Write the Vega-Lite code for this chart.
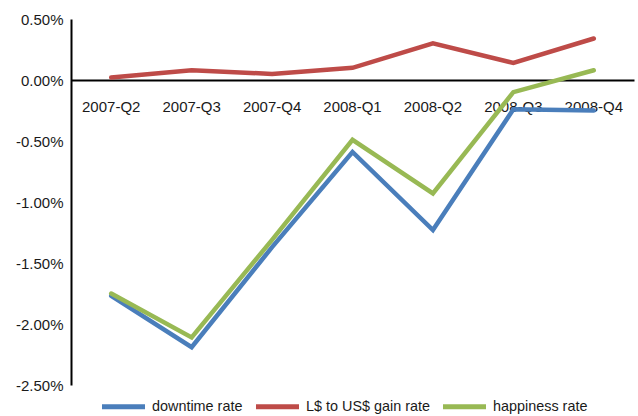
{
  "$schema": "https://vega.github.io/schema/vega-lite/v6.json",
  "autosize": {"type": "none"},
  "padding": {"left": 71, "top": 19, "right": 4, "bottom": 31},
  "width": 563,
  "height": 366,
  "background": "white",
  "config": {
    "view": {"stroke": null},
    "font": "Liberation Sans",
    "axis": {"labelFont": "Liberation Sans", "labelFontSize": 15, "labelColor": "#1a1a1a"},
    "legend": {"labelFont": "Liberation Sans", "labelFontSize": 14.4, "labelColor": "#1a1a1a"}
  },
  "data": {
    "values": [
      {"quarter": "2007-Q2", "series": "downtime rate", "rate": -0.0177},
      {"quarter": "2007-Q3", "series": "downtime rate", "rate": -0.0219},
      {"quarter": "2007-Q4", "series": "downtime rate", "rate": -0.0137},
      {"quarter": "2008-Q1", "series": "downtime rate", "rate": -0.0059},
      {"quarter": "2008-Q2", "series": "downtime rate", "rate": -0.0123},
      {"quarter": "2008-Q3", "series": "downtime rate", "rate": -0.0024},
      {"quarter": "2008-Q4", "series": "downtime rate", "rate": -0.0025},
      {"quarter": "2007-Q2", "series": "L$ to US$ gain rate", "rate": 0.0002},
      {"quarter": "2007-Q3", "series": "L$ to US$ gain rate", "rate": 0.0008},
      {"quarter": "2007-Q4", "series": "L$ to US$ gain rate", "rate": 0.0005},
      {"quarter": "2008-Q1", "series": "L$ to US$ gain rate", "rate": 0.0010},
      {"quarter": "2008-Q2", "series": "L$ to US$ gain rate", "rate": 0.0030},
      {"quarter": "2008-Q3", "series": "L$ to US$ gain rate", "rate": 0.0014},
      {"quarter": "2008-Q4", "series": "L$ to US$ gain rate", "rate": 0.0034},
      {"quarter": "2007-Q2", "series": "happiness rate", "rate": -0.0175},
      {"quarter": "2007-Q3", "series": "happiness rate", "rate": -0.0211},
      {"quarter": "2007-Q4", "series": "happiness rate", "rate": -0.0131},
      {"quarter": "2008-Q1", "series": "happiness rate", "rate": -0.0049},
      {"quarter": "2008-Q2", "series": "happiness rate", "rate": -0.0093},
      {"quarter": "2008-Q3", "series": "happiness rate", "rate": -0.0010},
      {"quarter": "2008-Q4", "series": "happiness rate", "rate": 0.0008}
    ]
  },
  "mark": {"type": "line", "strokeWidth": 4.5, "strokeCap": "round", "strokeJoin": "miter"},
  "encoding": {
    "x": {
      "field": "quarter",
      "type": "ordinal",
      "title": null,
      "scale": {"type": "band", "paddingInner": 0, "paddingOuter": 0},
      "axis": {
        "orient": "bottom",
        "offset": -305,
        "ticks": false,
        "labelAngle": 0,
        "labelPadding": 19,
        "domainColor": "#000000",
        "domainWidth": 2
      }
    },
    "y": {
      "field": "rate",
      "type": "quantitative",
      "title": null,
      "scale": {"domain": [-0.025, 0.005], "nice": false, "zero": false},
      "axis": {
        "values": [-0.025, -0.02, -0.015, -0.01, -0.005, 0, 0.005],
        "labelExpr": "replace(format(datum.value, '.2%'), '\u2212', '-')",
        "grid": false,
        "ticks": false,
        "labelPadding": 8,
        "domainColor": "#000000",
        "domainWidth": 2
      }
    },
    "color": {
      "field": "series",
      "type": "nominal",
      "title": null,
      "scale": {
        "domain": ["downtime rate", "L$ to US$ gain rate", "happiness rate"],
        "range": ["#4a7ebb", "#be4b48", "#98b954"]
      },
      "legend": {
        "orient": "none",
        "legendX": 28,
        "legendY": 363,
        "direction": "horizontal",
        "columns": 3,
        "symbolType": "stroke",
        "symbolSize": 1850,
        "symbolStrokeWidth": 5,
        "labelOffset": 4,
        "columnPadding": 2
      }
    }
  }
}
